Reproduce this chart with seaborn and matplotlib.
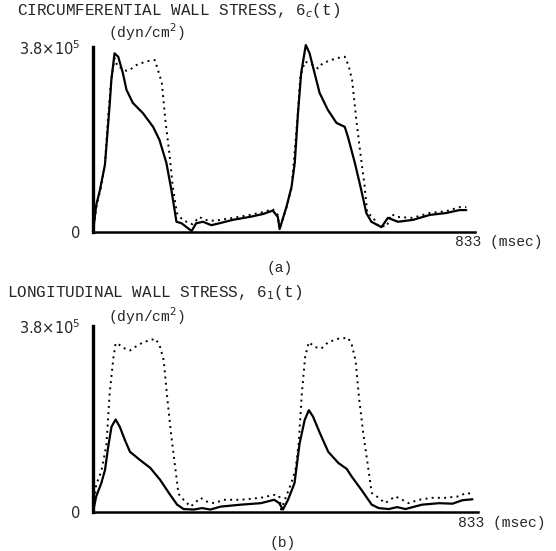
import matplotlib
matplotlib.use("Agg")
import matplotlib.pyplot as plt
import pandas as pd
import seaborn as sns

# -----------------------------
# DATA  (time in msec, stress in 1e5 dyn/cm^2)
# -----------------------------
circ_solid_t = [0, 7, 15, 26, 36, 40, 47, 55, 65, 73, 87, 109, 131, 145, 160, 171,
                182, 193, 204, 215, 225, 240, 258, 276, 305, 342, 371, 392, 403,
                407, 422, 433, 440, 447, 454, 464, 472, 483, 494, 512, 531, 549,
                556, 571, 585, 596, 607, 629, 643, 665, 698, 734, 770, 799, 814]
circ_solid_v = [0, 0.55, 0.86, 1.38, 2.57, 3.12, 3.67, 3.60, 3.27, 2.92, 2.65, 2.44,
                2.16, 1.89, 1.42, 0.86, 0.21, 0.18, 0.10, 0.02, 0.18, 0.21, 0.14,
                0.18, 0.25, 0.31, 0.37, 0.44, 0.31, 0.06, 0.52, 0.93, 1.42, 2.44,
                3.27, 3.84, 3.68, 3.27, 2.86, 2.51, 2.24, 2.16, 1.95, 1.42, 0.86,
                0.39, 0.21, 0.10, 0.29, 0.21, 0.25, 0.35, 0.39, 0.45, 0.45]

circ_dot_t = [0, 8, 17, 26, 33, 40, 47, 54, 63, 73, 80, 95, 109, 124, 135, 150, 158,
              167, 174, 183, 195, 204, 217, 232, 243, 265, 305, 342, 371, 392, 403,
              407, 422, 433, 447, 452, 462, 476, 491, 501, 516, 531, 549, 557, 565,
              574, 583, 592, 598, 610, 621, 640, 651, 661, 697, 734, 771, 799, 814]
circ_dot_v = [0, 0.55, 0.90, 1.38, 2.36, 3.16, 3.57, 3.39, 3.37, 3.31, 3.33, 3.43,
              3.48, 3.52, 3.53, 3.07, 2.28, 1.58, 0.93, 0.39, 0.25, 0.21, 0.16, 0.31,
              0.25, 0.23, 0.29, 0.35, 0.41, 0.47, 0.35, 0.06, 0.51, 0.90, 2.47, 3.19,
              3.50, 3.45, 3.36, 3.47, 3.52, 3.57, 3.60, 3.43, 3.12, 2.32, 1.62, 0.97,
              0.39, 0.31, 0.14, 0.11, 0.37, 0.31, 0.29, 0.39, 0.43, 0.51, 0.51]

long_solid_t = [0, 7, 18, 26, 33, 40, 49, 58, 69, 80, 102, 124, 145, 167, 182, 196,
                218, 236, 254, 276, 320, 363, 392, 403, 411, 422, 436, 447, 458,
                467, 476, 491, 509, 531, 549, 560, 581, 603, 618, 640, 658, 676,
                712, 749, 778, 799, 821]
long_solid_v = [0, 0.32, 0.59, 0.86, 1.34, 1.74, 1.89, 1.74, 1.47, 1.23, 1.06, 0.90,
                0.66, 0.35, 0.15, 0.06, 0.05, 0.08, 0.05, 0.11, 0.15, 0.18, 0.25,
                0.18, 0.05, 0.25, 0.59, 1.40, 1.88, 2.08, 1.95, 1.61, 1.23, 1.00,
                0.88, 0.72, 0.45, 0.15, 0.08, 0.06, 0.10, 0.06, 0.15, 0.18, 0.17,
                0.24, 0.26]

long_dot_t = [0, 7, 18, 29, 36, 44, 49, 58, 69, 80, 91, 109, 135, 144, 153, 161, 169,
              178, 185, 196, 211, 233, 243, 262, 283, 320, 363, 392, 403, 407, 429,
              438, 445, 452, 459, 467, 480, 494, 509, 531, 552, 560, 568, 576, 585,
              595, 603, 618, 632, 654, 669, 683, 705, 734, 763, 792, 807, 821]
long_dot_v = [0, 0.56, 0.83, 1.37, 2.42, 3.14, 3.45, 3.41, 3.34, 3.30, 3.37, 3.47,
              3.54, 3.41, 3.10, 2.30, 1.59, 0.90, 0.37, 0.25, 0.11, 0.29, 0.22, 0.18,
              0.25, 0.25, 0.29, 0.35, 0.33, 0.05, 0.59, 0.86, 1.40, 2.44, 3.17, 3.47,
              3.37, 3.34, 3.47, 3.54, 3.56, 3.41, 3.10, 2.30, 1.59, 0.93, 0.39, 0.29,
              0.18, 0.32, 0.25, 0.18, 0.25, 0.29, 0.29, 0.32, 0.39, 0.37]

T_END = 833
Y_TOP = 3.8

sns.set_theme(style="white")
plt.rcParams["font.family"] = ["Liberation Mono", "DejaVu Sans"]

W, H = 556, 551
fig = plt.figure(figsize=(W / 100, H / 100), dpi=100, facecolor="white")


def px_axes(x0, x1, y_zero, y_top):
    # 0..833 spans x0..x1 px, 0..3.8 spans y_zero..y_top px
    ymax = 4.0
    h_px = (y_zero - y_top) * ymax / Y_TOP
    return fig.add_axes([x0 / W, 1 - y_zero / H, (x1 - x0) / W, h_px / H])


def draw_panel(ax, st, sv, dt, dv):
    solid = pd.DataFrame({"t": st, "v": sv})
    dots = pd.DataFrame({"t": dt, "v": dv})
    sns.lineplot(data=solid, x="t", y="v", color="black", linewidth=1.6,
                 ax=ax, clip_on=False)
    sns.lineplot(data=dots, x="t", y="v", color="black", linewidth=1.4,
                 linestyle=(0, (1, 2.2)), ax=ax, clip_on=False)
    ax.set_xlim(0, T_END)
    ax.set_ylim(0, 4.0)
    ax.set_xlabel("")
    ax.set_ylabel("")
    ax.set_facecolor("none")
    for s in ["top", "right"]:
        ax.spines[s].set_visible(False)
    ax.spines["left"].set_bounds(0, Y_TOP)
    ax.spines["left"].set_linewidth(2.4)
    ax.spines["bottom"].set_linewidth(1.8)
    ax.spines["left"].set_color("black")
    ax.spines["bottom"].set_color("black")
    ax.set_yticks([0, Y_TOP])
    ax.set_yticklabels(["0", "3.8×10$^5$"])
    for lab in ax.get_yticklabels():
        lab.set_fontfamily("DejaVu Sans")
        lab.set_fontsize(10.5)
    ax.tick_params(axis="y", direction="inout", length=14, width=2,
                   color="black", pad=2)
    ax.set_xticks([T_END])
    ax.set_xticklabels([""])
    ax.tick_params(axis="x", direction="inout", length=8, width=1.5,
                   color="black")


ax_a = px_axes(93, 475, 232, 47)
draw_panel(ax_a, circ_solid_t, circ_solid_v, circ_dot_t, circ_dot_v)
fig.text(17 / W, 1 - 11 / H, "CIRCUMFERENTIAL WALL STRESS, 6$_c$(t)",
         ha="left", va="center", fontsize=11.5)
fig.text(108 / W, 1 - 32 / H, "(dyn/cm$^2$)", ha="left", va="center",
         fontsize=10.5)
fig.text(455 / W, 1 - 242 / H, "833 (msec)", ha="left", va="center",
         fontsize=10.5)
fig.text(280 / W, 1 - 268 / H, "(a)", ha="center", va="center", fontsize=10.5)

ax_b = px_axes(93, 478, 512, 326)
draw_panel(ax_b, long_solid_t, long_solid_v, long_dot_t, long_dot_v)
fig.text(7 / W, 1 - 292 / H, "LONGITUDINAL WALL STRESS, 6$_1$(t)",
         ha="left", va="center", fontsize=11.5)
fig.text(108 / W, 1 - 316 / H, "(dyn/cm$^2$)", ha="left", va="center",
         fontsize=10.5)
fig.text(458 / W, 1 - 523 / H, "833 (msec)", ha="left", va="center",
         fontsize=10.5)
fig.text(283 / W, 1 - 543 / H, "(b)", ha="center", va="center", fontsize=10.5)

fig.savefig("out.png", dpi=100, facecolor="white")
